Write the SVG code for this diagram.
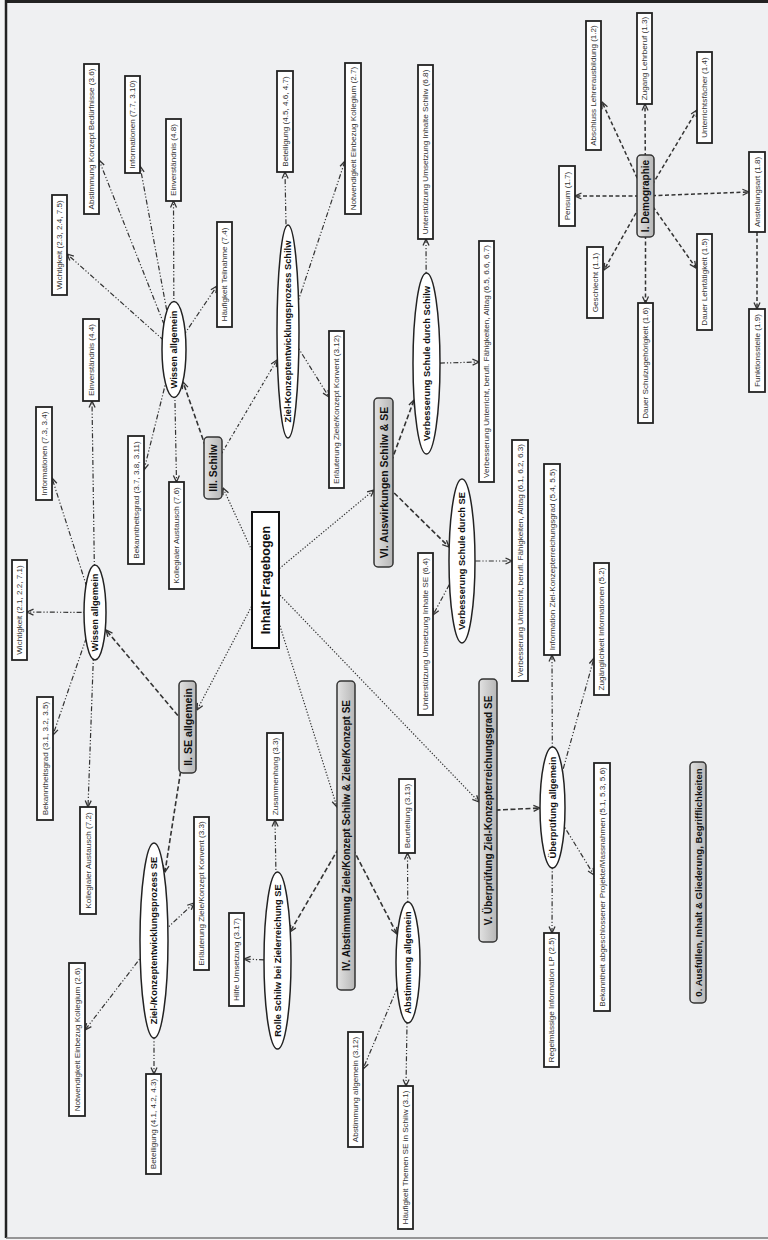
<svg xmlns="http://www.w3.org/2000/svg" width="768" height="1240" viewBox="0 0 768 1240">
<defs>
<style>
.bg{fill:#eff0f2}
.box{fill:#fff;stroke:#222;stroke-width:1.8}
.main{fill:#fff;stroke:#111;stroke-width:2}
.rr{fill:url(#gr);stroke:#333;stroke-width:1.5}
.el{fill:#fff;stroke:#222;stroke-width:1.5}
.t{font-family:"Liberation Sans",Arial,sans-serif;font-size:8.1px;fill:#333;text-anchor:middle;dominant-baseline:central}
.te{font-family:"Liberation Sans",Arial,sans-serif;font-size:9.3px;font-weight:bold;fill:#111;text-anchor:middle;dominant-baseline:central}
.tr{font-family:"Liberation Sans",Arial,sans-serif;font-size:10px;font-weight:bold;fill:#111;text-anchor:middle;dominant-baseline:central}
.tm{font-family:"Liberation Sans",Arial,sans-serif;font-size:12.5px;font-weight:bold;fill:#111;text-anchor:middle;dominant-baseline:central}
#edges path{fill:none;stroke:#333;marker-end:url(#ah)}
.dm{stroke-width:1.5;stroke-dasharray:4 2.5}
.dd{stroke-width:1.2;stroke-dasharray:5 2 1.2 2 1.2 2}
.dt{stroke-width:1.2;stroke-dasharray:1.3 1.7}
.ds{stroke-width:1.6;stroke-dasharray:5 2.5}
.dc{stroke-width:1.2;stroke-dasharray:3 2 1 2}
</style>
<linearGradient id="gr" x1="0" y1="0" x2="1" y2="0">
<stop offset="0" stop-color="#e2e2e2"/>
<stop offset="1" stop-color="#b6b6b6"/>
</linearGradient>
<marker id="ah" viewBox="0 0 8 8" refX="7.5" refY="4" markerWidth="8" markerHeight="8" markerUnits="userSpaceOnUse" orient="auto">
<path d="M1,1 L7.5,4 L1,7" fill="none" stroke="#333" stroke-width="1.3" stroke-dasharray="none"/>
</marker>
</defs>
<rect x="0" y="0" width="768" height="1240" fill="#f3f4f5"/>
<rect class="bg" x="6" y="1.5" width="770" height="1236.5"/>
<line x1="6" y1="1.5" x2="768" y2="1.5" stroke="#222" stroke-width="3"/>
<line x1="6" y1="0" x2="6" y2="1238" stroke="#222" stroke-width="2.5"/>
<line x1="6" y1="1238" x2="768" y2="1238" stroke="#777" stroke-width="1.5"/>

<g id="edges">
<!-- Demographie -->
<path class="dm" d="M645.5,196 L575,196"/>
<path class="dm" d="M645.5,196 L602,102"/>
<path class="dm" d="M645.5,196 L645,104"/>
<path class="dm" d="M645.5,196 L697,110"/>
<path class="dm" d="M645.5,196 L749,192"/>
<path class="dm" d="M645.5,196 L604,270"/>
<path class="dm" d="M645.5,196 L645.5,303"/>
<path class="dm" d="M645.5,196 L696,268"/>
<path class="dm" d="M757,232 L757,309"/>
<!-- Wissen Schilw -->
<path class="dd" d="M174,349.5 L67,254"/>
<path class="dd" d="M174,349.5 L99,160"/>
<path class="dd" d="M174,349.5 L140,166"/>
<path class="dd" d="M174,349.5 L173.5,201"/>
<path class="dd" d="M174,349.5 L217,286"/>
<path class="dd" d="M174,349.5 L144,470"/>
<path class="dd" d="M174,349.5 L176.5,482"/>
<!-- III -->
<path class="ds" d="M213,468 L183,382"/>
<path class="dc" d="M213,468 L277,360"/>
<!-- Inhalt -->
<path class="dt" d="M265.5,580 L223,488"/>
<path class="dt" d="M265.5,580 L197,710"/>
<path class="dt" d="M265.5,580 L337,807"/>
<path class="dt" d="M265.5,580 L479,802"/>
<path class="dt" d="M265.5,580 L374,490"/>
<!-- II -->
<path class="ds" d="M187.5,727 L106,630"/>
<path class="ds" d="M187.5,727 L165,872"/>
<!-- Wissen SE -->
<path class="dd" d="M95,612.5 L27,612"/>
<path class="dd" d="M95,612.5 L52,478"/>
<path class="dd" d="M95,612.5 L92,401"/>
<path class="dd" d="M95,612.5 L53,735"/>
<path class="dd" d="M95,612.5 L88,807"/>
<!-- Ziel SE -->
<path class="dd" d="M154,940.5 L194,903"/>
<path class="dd" d="M154,940.5 L85,1030"/>
<path class="dd" d="M154,940.5 L154,1074"/>
<!-- Rolle -->
<path class="dd" d="M277.5,960.5 L244,959"/>
<path class="dd" d="M277.5,960.5 L275,820"/>
<!-- IV -->
<path class="ds" d="M346,835.5 L290,932"/>
<path class="ds" d="M346,835.5 L397,934"/>
<!-- Abstimmung allgemein -->
<path class="dd" d="M408,962.5 L407.5,853"/>
<path class="dd" d="M408,962.5 L363,1069"/>
<path class="dd" d="M408,962.5 L406,1086"/>
<!-- V -->
<path class="ds" d="M488,810.5 L540,808"/>
<!-- Ueberpruefung -->
<path class="dd" d="M552.5,807.5 L552,655"/>
<path class="dd" d="M552.5,807.5 L594,658"/>
<path class="dd" d="M552.5,807.5 L594,875"/>
<path class="dd" d="M552.5,807.5 L552,933"/>
<!-- VI -->
<path class="ds" d="M383.5,482.5 L414,400"/>
<path class="ds" d="M383.5,482.5 L449,547"/>
<!-- Verb Schilw -->
<path class="dd" d="M426.5,363.5 L426,239"/>
<path class="dd" d="M426.5,363.5 L479,362"/>
<!-- Verb SE -->
<path class="dd" d="M462,561 L433,615"/>
<path class="dd" d="M462,561 L512,561"/>
<!-- Ziel Schilw -->
<path class="dd" d="M288,331.5 L285,172"/>
<path class="dd" d="M288,331.5 L345,161"/>
<path class="dd" d="M288,331.5 L329,397"/>
</g>

<g id="n-inhalt"><rect class="main" x="252" y="512" width="27" height="136"/><text class="tm" transform="translate(265.5,580) rotate(-90)">Inhalt Fragebogen</text></g>

<g id="n-demo"><rect class="rr" x="637" y="155" width="17" height="82" rx="4"/><text class="tr" transform="translate(645.5,196) rotate(-90)">I. Demographie</text></g>
<g id="n-II"><rect class="rr" x="179" y="681" width="17" height="92" rx="4"/><text class="tr" style="font-size:10.6px" transform="translate(187.5,727) rotate(-90)">II. SE allgemein</text></g>
<g id="n-III"><rect class="rr" x="204" y="437" width="18" height="62" rx="4"/><text class="tr" style="font-size:10.4px" transform="translate(213,468) rotate(-90)">III. Schilw</text></g>
<g id="n-IV"><rect class="rr" x="337" y="681" width="18" height="309" rx="4"/><text class="tr" transform="translate(346,835.5) rotate(-90)">IV. Abstimmung Ziele/Konzept Schilw &amp; Ziele/Konzept SE</text></g>
<g id="n-V"><rect class="rr" x="479" y="679" width="18" height="263" rx="4"/><text class="tr" transform="translate(488,810.5) rotate(-90)">V. Überprüfung Ziel-Konzepterreichungsgrad SE</text></g>
<g id="n-VI"><rect class="rr" x="374" y="398" width="19" height="169" rx="4"/><text class="tr" style="font-size:10.5px" transform="translate(383.5,482.5) rotate(-90)">VI. Auswirkungen Schilw &amp; SE</text></g>
<g id="n-0"><rect class="rr" x="690" y="762" width="16" height="241" rx="4"/><text class="tr" style="font-size:9.6px" transform="translate(698,882.5) rotate(-90)">0. Ausfüllen, Inhalt &amp; Gliederung, Begrifflichkeiten</text></g>

<g id="e-wissenSchilw"><ellipse class="el" cx="174" cy="349.5" rx="12" ry="48"/><text class="te" transform="translate(174,349.5) rotate(-90)">Wissen allgemein</text></g>
<g id="e-zielSchilw"><ellipse class="el" cx="288" cy="331.5" rx="11" ry="106.5"/><text class="te" transform="translate(288,331.5) rotate(-90)">Ziel-Konzeptentwicklungsprozess Schilw</text></g>
<g id="e-verbSchilw"><ellipse class="el" cx="426.5" cy="363.5" rx="13.5" ry="90.5"/><text class="te" transform="translate(426.5,363.5) rotate(-90)">Verbesserung Schule durch Schilw</text></g>
<g id="e-verbSE"><ellipse class="el" cx="462" cy="561" rx="13" ry="82"/><text class="te" transform="translate(462,561) rotate(-90)">Verbesserung Schule durch SE</text></g>
<g id="e-wissenSE"><ellipse class="el" cx="95" cy="612.5" rx="11" ry="47.5"/><text class="te" transform="translate(95,612.5) rotate(-90)">Wissen allgemein</text></g>
<g id="e-zielSE"><ellipse class="el" cx="154" cy="940.5" rx="14" ry="97.5"/><text class="te" transform="translate(154,940.5) rotate(-90)">Ziel-/Konzeptentwicklungsprozess SE</text></g>
<g id="e-rolle"><ellipse class="el" cx="277.5" cy="960.5" rx="13.5" ry="88.5"/><text class="te" transform="translate(277.5,960.5) rotate(-90)">Rolle Schilw bei Zielerreichung SE</text></g>
<g id="e-abstA"><ellipse class="el" cx="408" cy="962.5" rx="12" ry="60.5"/><text class="te" transform="translate(408,962.5) rotate(-90)">Abstimmung allgemein</text></g>
<g id="e-ueberA"><ellipse class="el" cx="552.5" cy="807.5" rx="12.5" ry="60.5"/><text class="te" transform="translate(552.5,807.5) rotate(-90)">Überprüfung allgemein</text></g>

<g id="b-abst36"><rect class="box" x="84" y="64" width="15" height="150"/><text class="t" transform="translate(91.5,139) rotate(-90)">Abstimmung Konzept Bedürfnisse (3.6)</text></g>
<g id="b-info77"><rect class="box" x="125" y="76" width="15" height="97"/><text class="t" transform="translate(132.5,124.5) rotate(-90)">Informationen (7.7, 3.10)</text></g>
<g id="b-einv48"><rect class="box" x="166" y="119" width="15" height="82"/><text class="t" transform="translate(173.5,160) rotate(-90)">Einverständnis (4.8)</text></g>
<g id="b-wicht23"><rect class="box" x="52" y="195" width="15" height="100"/><text class="t" transform="translate(59.5,245) rotate(-90)">Wichtigkeit (2.3, 2.4, 7.5)</text></g>
<g id="b-haeuf74"><rect class="box" x="217" y="222" width="15" height="105"/><text class="t" transform="translate(224.5,274.5) rotate(-90)">Häufigkeit Teilnahme (7.4)</text></g>
<g id="b-bet45"><rect class="box" x="277" y="71" width="16" height="101"/><text class="t" transform="translate(285,121.5) rotate(-90)">Beteiligung (4.5, 4.6, 4.7)</text></g>
<g id="b-notw27"><rect class="box" x="345" y="63" width="16" height="151"/><text class="t" transform="translate(353,138.5) rotate(-90)">Notwendigkeit Einbezug Kollegium (2.7)</text></g>
<g id="b-unt68"><rect class="box" x="418" y="65" width="15" height="174"/><text class="t" transform="translate(425.5,152) rotate(-90)">Unterstützung Umsetzung Inhalte Schilw (6.8)</text></g>
<g id="b-verb65"><rect class="box" x="479" y="241" width="15" height="241"/><text class="t" transform="translate(486.5,361.5) rotate(-90)">Verbesserung Unterricht, berufl. Fähigkeiten, Alltag (6.5, 6.6, 6.7)</text></g>
<g id="b-absch12"><rect class="box" x="586" y="21" width="15" height="129"/><text class="t" transform="translate(593.5,85.5) rotate(-90)">Abschluss Lehrerausbildung (1.2)</text></g>
<g id="b-zug13"><rect class="box" x="637" y="13" width="15" height="91"/><text class="t" transform="translate(644.5,58.5) rotate(-90)">Zugang Lehrberuf (1.3)</text></g>
<g id="b-unter14"><rect class="box" x="697" y="52" width="15" height="91"/><text class="t" transform="translate(704.5,97.5) rotate(-90)">Unterrichtsfächer (1.4)</text></g>
<g id="b-pens17"><rect class="box" x="559" y="166" width="16" height="60"/><text class="t" transform="translate(567,196) rotate(-90)">Pensum (1.7)</text></g>
<g id="b-anst18"><rect class="box" x="749" y="152" width="16" height="80"/><text class="t" transform="translate(757,192) rotate(-90)">Anstellungsart (1.8)</text></g>
<g id="b-geschl11"><rect class="box" x="587" y="247" width="16" height="71"/><text class="t" transform="translate(595,282.5) rotate(-90)">Geschlecht (1.1)</text></g>
<g id="b-dauerL15"><rect class="box" x="697" y="234" width="15" height="96"/><text class="t" transform="translate(704.5,282) rotate(-90)">Dauer Lehrtätigkeit (1.5)</text></g>
<g id="b-dauerS16"><rect class="box" x="638" y="303" width="15" height="120"/><text class="t" transform="translate(645.5,363) rotate(-90)">Dauer Schulzugehörigkeit (1.6)</text></g>
<g id="b-funk19"><rect class="box" x="749" y="309" width="16" height="83"/><text class="t" transform="translate(757,350.5) rotate(-90)">Funktionsstelle (1.9)</text></g>
<g id="b-einv44"><rect class="box" x="83" y="319" width="16" height="82"/><text class="t" transform="translate(91,360) rotate(-90)">Einverständnis (4.4)</text></g>
<g id="b-info73"><rect class="box" x="36" y="407" width="16" height="93"/><text class="t" transform="translate(44,453.5) rotate(-90)">Informationen (7.3, 3.4)</text></g>
<g id="b-bek37"><rect class="box" x="128" y="436" width="16" height="128"/><text class="t" transform="translate(136,500) rotate(-90)">Bekanntheitsgrad (3.7, 3.8, 3.11)</text></g>
<g id="b-koll76"><rect class="box" x="169" y="482" width="15" height="107"/><text class="t" transform="translate(176.5,535.5) rotate(-90)">Kollegialer Austausch (7.6)</text></g>
<g id="b-wicht21"><rect class="box" x="12" y="560" width="15" height="100"/><text class="t" transform="translate(19.5,610) rotate(-90)">Wichtigkeit (2.1, 2.2, 7.1)</text></g>
<g id="b-erl312"><rect class="box" x="329" y="331" width="15" height="157"/><text class="t" transform="translate(336.5,409.5) rotate(-90)">Erläuterung Ziele/Konzept Konvent (3.12)</text></g>
<g id="b-unt64"><rect class="box" x="418" y="553" width="15" height="162"/><text class="t" transform="translate(425.5,634) rotate(-90)">Unterstützung Umsetzung Inhalte SE (6.4)</text></g>
<g id="b-verb61"><rect class="box" x="512" y="440" width="16" height="241"/><text class="t" transform="translate(520,560.5) rotate(-90)">Verbesserung Unterricht, berufl. Fähigkeiten, Alltag (6.1, 6.2, 6.3)</text></g>
<g id="b-infoZ"><rect class="box" x="544" y="464" width="16" height="191"/><text class="t" transform="translate(552,559.5) rotate(-90)">Information Ziel-Konzepterreichungsgrad (5.4, 5.5)</text></g>
<g id="b-zugI52"><rect class="box" x="594" y="563" width="15" height="132"/><text class="t" transform="translate(601.5,629) rotate(-90)">Zugänglichkeit Informationen (5.2)</text></g>
<g id="b-bek31"><rect class="box" x="37" y="697" width="16" height="123"/><text class="t" transform="translate(45,758.5) rotate(-90)">Bekanntheitsgrad (3.1, 3.2, 3.5)</text></g>
<g id="b-koll72"><rect class="box" x="80" y="807" width="16" height="107"/><text class="t" transform="translate(88,860.5) rotate(-90)">Kollegialer Austausch (7.2)</text></g>
<g id="b-erl33"><rect class="box" x="194" y="817" width="15" height="153"/><text class="t" transform="translate(201.5,893.5) rotate(-90)">Erläuterung Ziele/Konzept Konvent (3.3)</text></g>
<g id="b-notw26"><rect class="box" x="69" y="963" width="16" height="153"/><text class="t" transform="translate(77,1039.5) rotate(-90)">Notwendigkeit Einbezug Kollegium (2.6)</text></g>
<g id="b-bet41"><rect class="box" x="146" y="1074" width="15" height="100"/><text class="t" transform="translate(153.5,1124) rotate(-90)">Beteiligung (4.1, 4.2, 4.3)</text></g>
<g id="b-hilfe"><rect class="box" x="229" y="913" width="15" height="93"/><text class="t" transform="translate(236.5,959.5) rotate(-90)">Hilfe Umsetzung (3.17)</text></g>
<g id="b-zus33"><rect class="box" x="267" y="733" width="16" height="87"/><text class="t" transform="translate(275,776.5) rotate(-90)">Zusammenhang (3.3)</text></g>
<g id="b-beur"><rect class="box" x="399" y="779" width="16" height="74"/><text class="t" transform="translate(407,816) rotate(-90)">Beurteilung (3.13)</text></g>
<g id="b-abst312"><rect class="box" x="348" y="1032" width="15" height="115"/><text class="t" transform="translate(355.5,1089.5) rotate(-90)">Abstimmung allgemein (3.12)</text></g>
<g id="b-haeufT"><rect class="box" x="398" y="1086" width="15" height="143"/><text class="t" transform="translate(405.5,1157.5) rotate(-90)">Häufigkeit Themen SE in Schilw (3.1)</text></g>
<g id="b-bekP"><rect class="box" x="594" y="763" width="16" height="248"/><text class="t" transform="translate(602,887) rotate(-90)">Bekanntheit abgeschlossener Projekte/Massnahmen (5.1, 5.3, 5.6)</text></g>
<g id="b-regel"><rect class="box" x="544" y="933" width="15" height="134"/><text class="t" transform="translate(551.5,1000) rotate(-90)">Regelmässige Information LP (2.5)</text></g>
</svg>
